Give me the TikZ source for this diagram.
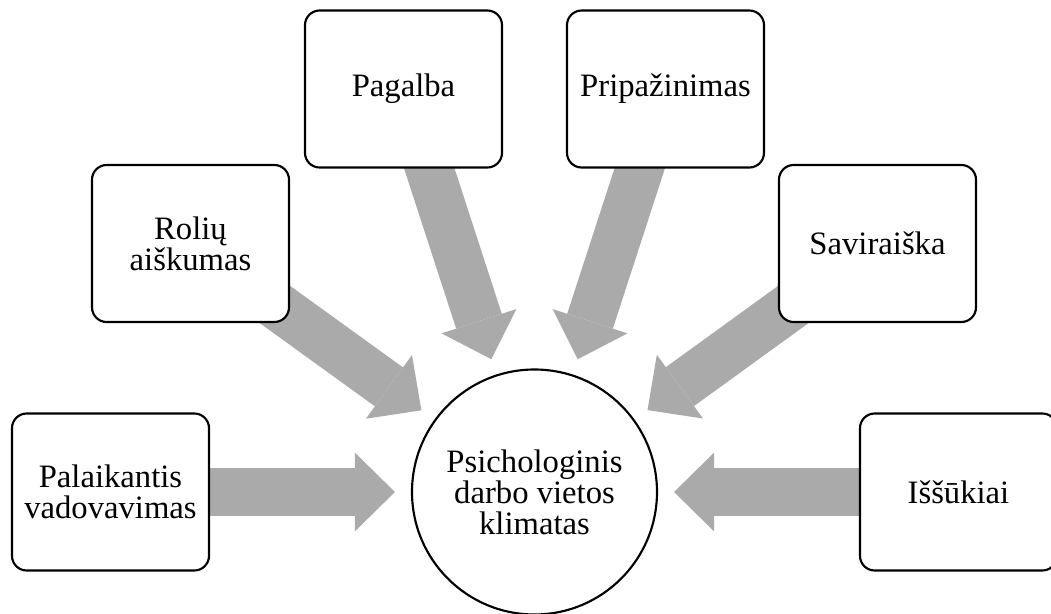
\documentclass[tikz,border=0pt]{standalone}
\usepackage{fontspec}
\setmainfont{Liberation Serif}
\usetikzlibrary{arrows.meta,backgrounds}
\definecolor{arrowgray}{RGB}{170,170,170}
\tikzset{
    box/.style={draw, line width=1.6pt, rounded corners=11pt, fill=white,
        minimum width=147.75pt, minimum height=117.75pt, align=center,
        font=\fontsize{24.5}{23.25}\selectfont},
    hub/.style={draw, circle, line width=1.6pt, fill=white, inner sep=0pt,
        minimum size=183.75pt, align=center,
        font=\fontsize{24.5}{23.25}\selectfont},
    bigarrow/.style={draw=arrowgray, line width=36pt, shorten >=12pt,
        -{Triangle[width=59pt,length=30pt,line width=0pt]}}
}
\begin{document}
\begin{tikzpicture}[x=0.75pt,y=-0.75pt]
    \clip (0,0) rectangle (1051,614);

    \node[hub] (klim) at (534.5,492) {Psichologinis\\darbo vietos\\klimatas};

    \node[box] (pal) at (110.5,492) {Palaikantis\\vadovavimas};
    \node[box] (rol) at (190.5,243.5) {Rolių\\aiškumas};
    \node[box] (pag) at (403.5,89) {Pagalba};
    \node[box] (pri) at (665.5,89) {Pripažinimas};
    \node[box] (sav) at (877.5,243.5) {Saviraiška};
    \node[box] (iss) at (958.5,492) {Iššūkiai};

    \begin{scope}[on background layer]
        \foreach \src in {pal,rol,pag,pri,sav,iss}
            \draw[bigarrow] (\src.center) -- (klim);
    \end{scope}
\end{tikzpicture}
\end{document}
